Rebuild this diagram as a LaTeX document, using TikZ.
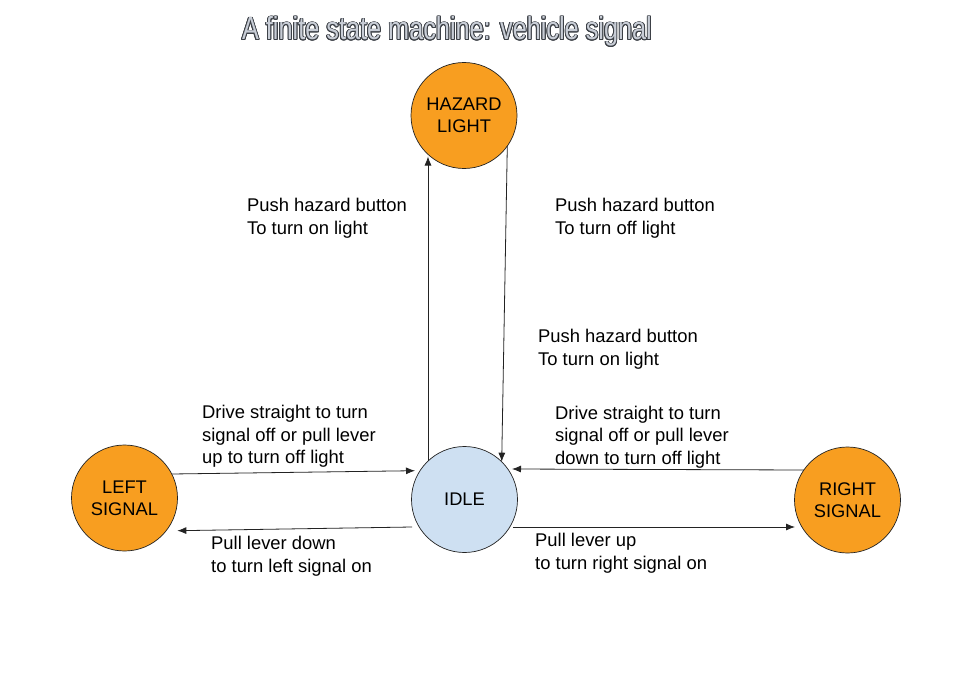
\documentclass[tikz,border=0pt]{standalone}
\usepackage{fontspec}
\usepackage{graphicx}
\usepackage{contour}
\setmainfont{Liberation Sans}
\newfontfamily\titlefont[FakeStretch=0.79]{Liberation Sans}
\usetikzlibrary{arrows.meta,calc}
\definecolor{stateorange}{RGB}{248,158,32}
\definecolor{idleblue}{RGB}{206,224,242}
\definecolor{linegray}{RGB}{35,35,35}
\definecolor{titlefill}{RGB}{200,205,214}
\definecolor{titleline}{RGB}{60,64,70}
\contourlength{0.9pt}
\tikzset{
  statenode/.style={circle,draw=linegray,line width=0.7pt,minimum size=106pt,inner sep=0pt,
    align=center,font=\fontsize{18.3pt}{22pt}\selectfont},
  orangestate/.style={statenode,fill=stateorange},
  idlestate/.style={statenode,fill=idleblue},
  arr/.style={draw=linegray,line width=0.8pt,-{Latex[length=9pt,width=7pt]}},
  lbl/.style={anchor=base west,align=left,inner sep=0pt,font=\fontsize{18.4pt}{22.3pt}\selectfont}
}
\begin{document}
\begin{tikzpicture}[x=1pt,y=-1pt]
\useasboundingbox[fill=white] (0,0) rectangle (967,677);
\node[anchor=base,inner sep=0pt] (title) at (447,40)
  {\titlefont\fontsize{32pt}{36pt}\selectfont\color{titlefill}\contour{titleline}{A finite state machine: vehicle signal}};

\node[orangestate] (hazard) at (464,115.5) {HAZARD\\LIGHT};
\node[idlestate] (idle) at (464.5,499.5) {IDLE};
\node[orangestate] (left) at (124.5,498) {LEFT\\SIGNAL};
\node[orangestate] (right) at (847.5,500) {RIGHT\\SIGNAL};

% idle <-> hazard
\draw[arr] ([shift={(-36.5,-38.4)}]idle.center) -- ([shift={(-36,41)}]hazard.center);
\draw[arr] ([shift={(43.3,30.6)}]hazard.center) -- ([shift={(37.2,-37.8)}]idle.center);
% left <-> idle
\draw[arr] ([shift={(47.3,-24)}]left.center) -- ([shift={(-49.5,-28.8)}]idle.center);
\draw[arr] ([shift={(-52.5,27.5)}]idle.center) -- ([shift={(52.8,32.7)}]left.center);
% right <-> idle
\draw[arr] ([shift={(-43.7,-30)}]right.center) -- ([shift={(47.5,-30.5)}]idle.center);
\draw[arr] ([shift={(48.5,27.5)}]idle.center) -- ([shift={(-52.5,27)}]right.center);

% anchor base west = baseline of the last line
\node[lbl] (l1) at (247,234) {Push hazard button\\To turn on light};
\node[lbl] (l2) at (555,234) {Push hazard button\\To turn off light};
\node[lbl] (l3) at (538,365) {Push hazard button\\To turn on light};
\node[lbl] (l4) at (202,463.5) {Drive straight to turn\\signal off or pull lever\\up to turn off light};
\node[lbl] (l5) at (555,464) {Drive straight to turn\\signal off or pull lever\\down to turn off light};
\node[lbl] (l6) at (211,572) {Pull lever down\\to turn left signal on};
\node[lbl] (l7) at (535,569) {Pull lever up\\to turn right signal on};
\end{tikzpicture}
\end{document}
